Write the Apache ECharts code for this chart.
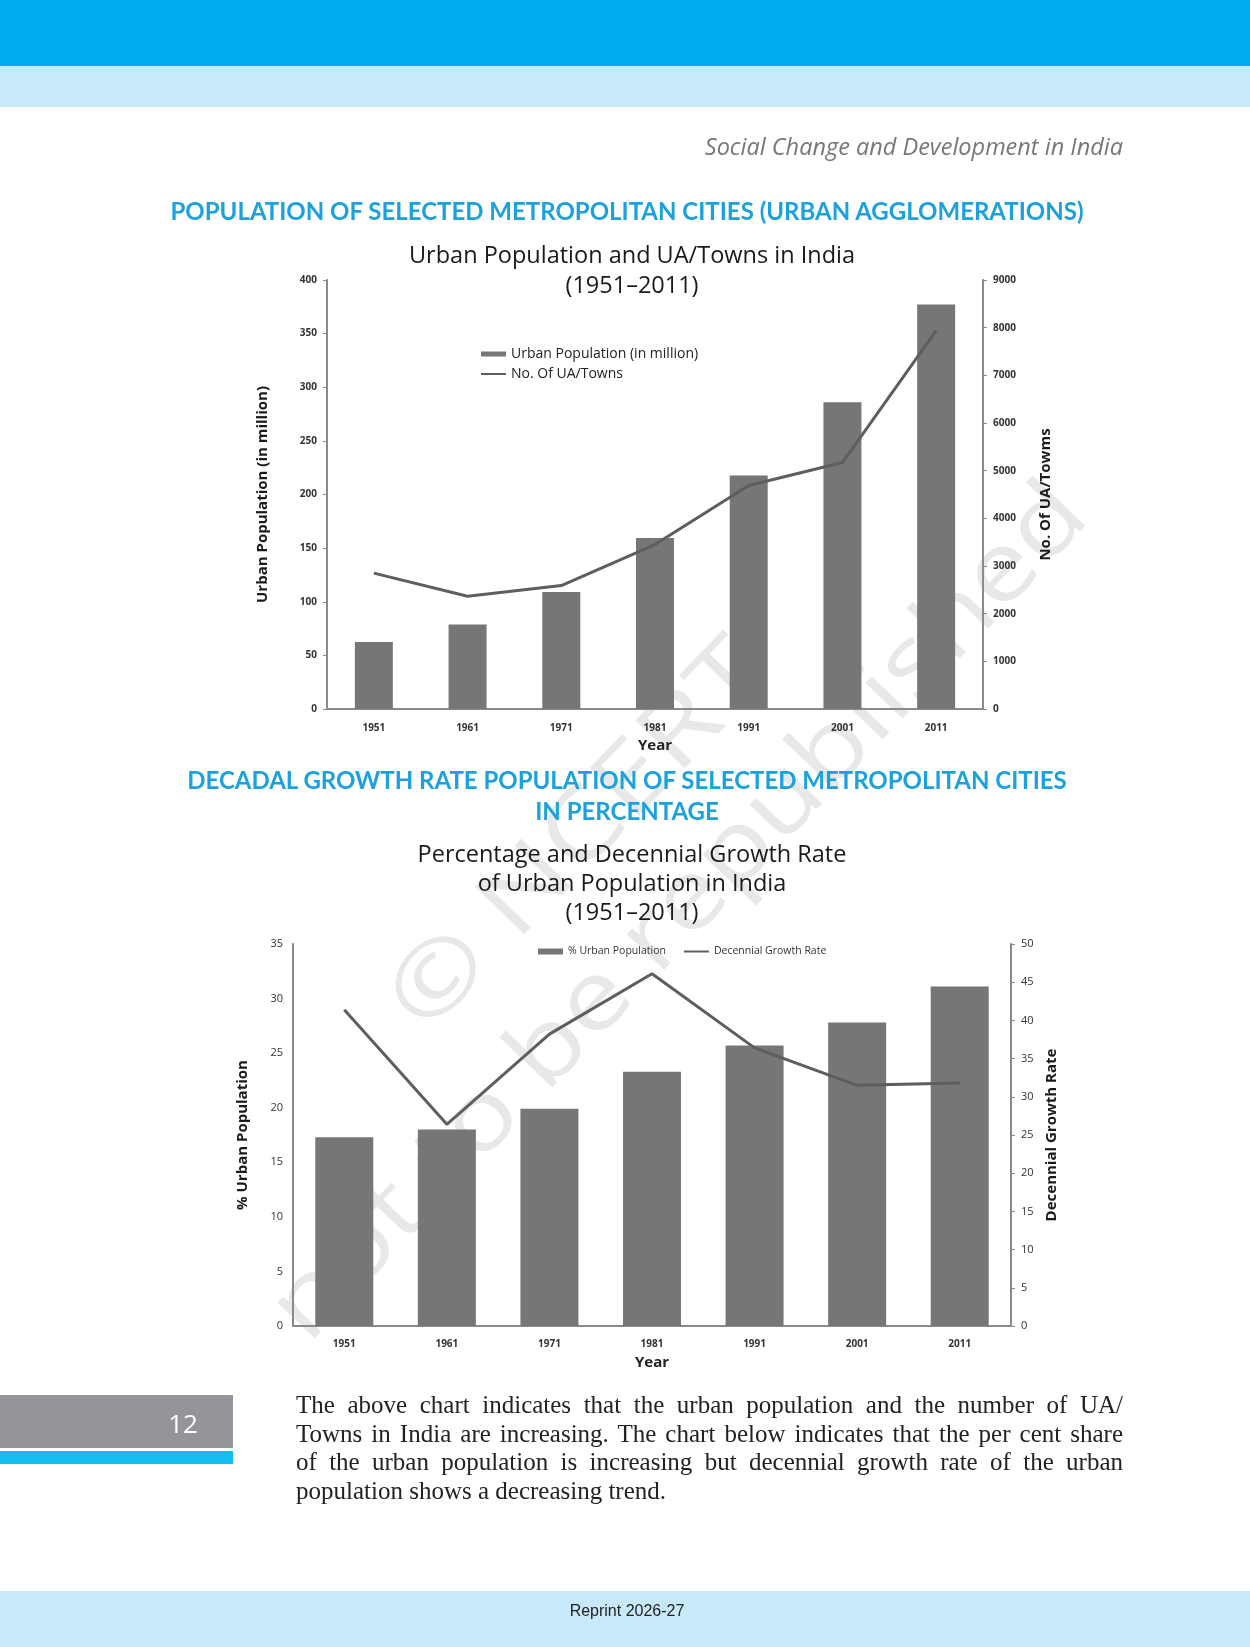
<!DOCTYPE html>
<html>
<head>
<meta charset="utf-8">
<script src="https://cdn.jsdelivr.net/npm/echarts@6/dist/echarts.min.js"></script>
<style>
  html, body { margin: 0; padding: 0; background: #fff; }
  #page { position: relative; width: 1250px; height: 1647px; overflow: hidden; font-family: 'Open Sans', sans-serif; }
  .band { position: absolute; left: 0; width: 1250px; }
  #wm { position: absolute; left: 0; top: 0; z-index: 1; }
  #chart { position: absolute; left: 0; top: 0; width: 1250px; height: 1647px; z-index: 2; }
  .txt { position: absolute; z-index: 3; white-space: nowrap; }
  .head { color: #1ba1dd; font-family: Lato, sans-serif; font-weight: bold; font-size: 24px; text-align: center; }
  #para { position: absolute; z-index: 3; left: 296px; top: 1391px; width: 827px; font-family: 'Liberation Serif', serif; font-size: 25px; line-height: 28.5px; color: #222; }
  #para div { white-space: nowrap; text-align: justify; text-align-last: justify; }
  #para div.last { text-align-last: left; }
</style>
</head>
<body>
<div id="page">
  <div class="band" style="top:0;height:66px;background:#00aeef"></div>
  <div class="band" style="top:66px;height:41px;background:#c8e9f9"></div>
  <div class="band" style="top:1591px;height:56px;background:#c8e9f9"></div>
  <div style="position:absolute;left:0;top:1395px;width:233px;height:53px;background:#939598"></div>
  <div style="position:absolute;left:0;top:1451px;width:233px;height:13px;background:#13bff0"></div>

  <svg id="wm" width="1250" height="1647">
    <text x="426" y="1036" transform="rotate(-46 426 1036)" font-family="Open Sans" font-size="96" fill="#e8e8e8" textLength="500" lengthAdjust="spacingAndGlyphs">© NCERT</text>
    <text x="308" y="1345" transform="rotate(-46.5 308 1345)" font-family="Open Sans" font-size="96" fill="#e8e8e8" textLength="1139" lengthAdjust="spacingAndGlyphs">not to be republished</text>
  </svg>

  <div id="chart"></div>

  <div class="txt" style="right:127px;top:130px;font-size:23.5px;font-style:italic;color:#777;">Social Change and Development in India</div>
  <div class="txt head" style="left:0;width:1254px;top:196px;">POPULATION OF SELECTED METROPOLITAN CITIES (URBAN AGGLOMERATIONS)</div>
  <div class="txt head" style="left:0;width:1254px;top:764px;line-height:31px;">DECADAL GROWTH RATE POPULATION OF SELECTED METROPOLITAN CITIES<br>IN PERCENTAGE</div>
  <div class="txt" style="left:133px;width:100px;top:1405px;font-size:26px;color:#fff;text-align:center;">12</div>
  <div id="para">
    <div>The above chart indicates that the urban population and the number of UA/</div>
    <div>Towns in India are increasing. The chart below indicates that the per cent share</div>
    <div>of the urban population is increasing but decennial growth rate of the urban</div>
    <div class="last">population shows a decreasing trend.</div>
  </div>
  <div class="txt" style="left:0;width:1254px;top:1602px;text-align:center;font-family:'Liberation Sans',sans-serif;font-size:16px;color:#222;">Reprint 2026-27</div>
</div>
<script>
// census years
var years = ['1951', '1961', '1971', '1981', '1991', '2001', '2011'];

// chart 1: urban population (million) and number of UA/towns
var urbanPop = [62.4, 78.9, 109.1, 159.5, 217.6, 286.1, 377.1];
var uaTowns = [2850, 2365, 2590, 3450, 4690, 5170, 7940];

// chart 2: % urban population and decennial growth rate
var pctUrban = [17.3, 18.0, 19.9, 23.3, 25.7, 27.8, 31.1];
var growthRate = [41.4, 26.4, 38.2, 46.1, 36.4, 31.5, 31.8];

var font = 'Open Sans';
var axisGray = '#8a8a8a';
var barGray = '#767676';
var lineGray = '#5e5e5e';
// thin bar used as legend icon for the line series (no marker)
var lineIcon = 'path://M0,0H25V2H0Z';

function catAxis(grid, margin, gap) {
  return {
    gridIndex: grid,
    type: 'category',
    data: years,
    axisLine: { lineStyle: { color: axisGray, width: 2 } },
    axisTick: { show: false },
    axisLabel: { margin: margin, fontSize: 10, fontWeight: 'bold', color: '#333', fontFamily: font },
    name: 'Year',
    nameLocation: 'middle',
    nameGap: gap,
    nameTextStyle: { fontSize: 15, fontWeight: 'bold', color: '#222', fontFamily: font }
  };
}

function valAxis(grid, pos, max, step, name, gap, ticks, bold) {
  return {
    gridIndex: grid,
    type: 'value',
    position: pos,
    min: 0,
    max: max,
    interval: step,
    splitLine: { show: false },
    axisLine: { show: true, lineStyle: { color: axisGray, width: 2 } },
    axisTick: { show: ticks, length: 4, lineStyle: { color: axisGray } },
    axisLabel: {
      margin: 10, fontSize: bold ? 10 : 11, fontWeight: bold ? 'bold' : 'normal', color: '#333', fontFamily: font,
      formatter: function (v) { return String(v); }
    },
    name: name,
    nameLocation: 'middle',
    nameRotate: 90,
    nameGap: gap,
    nameTextStyle: { fontSize: 15, fontWeight: 'bold', color: '#1a1a1a', fontFamily: font }
  };
}

var chart = echarts.init(document.getElementById('chart'), null, { renderer: 'canvas' });
chart.setOption({
  backgroundColor: 'transparent',
  animation: false,
  title: [{
    text: 'Urban Population and UA/Towns in India\n(1951–2011)',
    left: 627, top: 236, textAlign: 'center',
    textStyle: { fontSize: 23.5, fontWeight: 'normal', lineHeight: 30, color: '#1a1a1a', fontFamily: font }
  }, {
    text: 'Percentage and Decennial Growth Rate\nof Urban Population in India\n(1951–2011)',
    left: 627, top: 836, textAlign: 'center',
    textStyle: { fontSize: 23.5, fontWeight: 'normal', lineHeight: 29, color: '#1a1a1a', fontFamily: font }
  }],
  legend: [{
    orient: 'vertical',
    left: 476, top: 342,
    itemWidth: 25, itemHeight: 5, itemGap: 6,
    textStyle: { fontSize: 14, color: '#222', fontFamily: font },
    data: [{ name: 'Urban Population (in million)', icon: 'rect' }, { name: 'No. Of UA/Towns', icon: lineIcon }]
  }, {
    orient: 'horizontal',
    left: 533, top: 941,
    itemWidth: 25, itemHeight: 6, itemGap: 18,
    textStyle: { fontSize: 10.5, color: '#333', fontFamily: font },
    data: [{ name: '% Urban Population', icon: 'rect' }, { name: 'Decennial Growth Rate', icon: lineIcon }]
  }],
  grid: [
    { left: 327, top: 280, width: 656, height: 429 },
    { left: 293, top: 944, width: 718, height: 382 }
  ],
  xAxis: [catAxis(0, 14, 29), catAxis(1, 13, 29)],
  yAxis: [
    valAxis(0, 'left', 400, 50, 'Urban Population (in million)', 57, true, true),
    valAxis(0, 'right', 9000, 1000, 'No. Of UA/Towms', 55, true, true),
    valAxis(1, 'left', 35, 5, '% Urban Population', 43, false, false),
    valAxis(1, 'right', 50, 5, 'Decennial Growth Rate', 27, true, false)
  ],
  series: [{
    name: 'Urban Population (in million)',
    type: 'bar',
    xAxisIndex: 0, yAxisIndex: 0,
    data: urbanPop,
    barWidth: 38,
    itemStyle: { color: barGray }
  }, {
    name: 'No. Of UA/Towns',
    type: 'line',
    xAxisIndex: 0, yAxisIndex: 1,
    data: uaTowns,
    symbol: 'none',
    lineStyle: { color: lineGray, width: 3 },
    itemStyle: { color: lineGray }
  }, {
    name: '% Urban Population',
    type: 'bar',
    xAxisIndex: 1, yAxisIndex: 2,
    data: pctUrban,
    barWidth: 58,
    itemStyle: { color: barGray }
  }, {
    name: 'Decennial Growth Rate',
    type: 'line',
    xAxisIndex: 1, yAxisIndex: 3,
    data: growthRate,
    symbol: 'none',
    lineStyle: { color: lineGray, width: 3 },
    itemStyle: { color: lineGray }
  }]
});
</script>
</body>
</html>
